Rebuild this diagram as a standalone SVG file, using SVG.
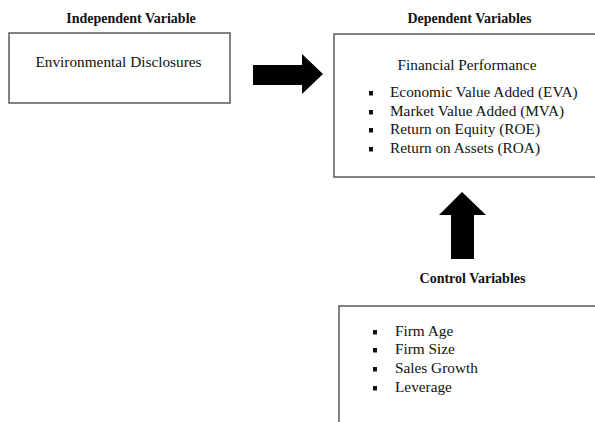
<svg xmlns="http://www.w3.org/2000/svg" width="595" height="422" viewBox="0 0 595 422">
<style>
.box{fill:#fff;stroke:#404040;stroke-width:1.3}
.t{font-family:"Liberation Serif","Times New Roman",serif;font-size:15.3px;fill:#111}
.h{font-family:"Liberation Serif","Times New Roman",serif;font-size:14px;font-weight:bold;fill:#111}
.b{fill:#111}
.arrow{fill:#000}
</style>
<rect width="595" height="422" fill="#fff"/>
<g id="independent">
<text class="h" x="131" y="23" text-anchor="middle">Independent Variable</text>
<rect class="box" x="9" y="33" width="221" height="70"/>
<text class="t" x="118.5" y="67" text-anchor="middle">Environmental Disclosures</text>
</g>
<g id="dependent">
<text class="h" x="469.5" y="23" text-anchor="middle">Dependent Variables</text>
<rect class="box" x="334" y="34" width="280" height="143"/>
<text class="t" x="467" y="70" text-anchor="middle">Financial Performance</text>
<rect class="b" x="369" y="91" width="4" height="4.5"/>
<text class="t" x="390" y="97">Economic Value Added (EVA)</text>
<rect class="b" x="369" y="110" width="4" height="4.5"/>
<text class="t" x="390" y="116">Market Value Added (MVA)</text>
<rect class="b" x="369" y="128" width="4" height="4.5"/>
<text class="t" x="390" y="134">Return on Equity (ROE)</text>
<rect class="b" x="369" y="147" width="4" height="4.5"/>
<text class="t" x="390" y="153">Return on Assets (ROA)</text>
</g>
<g id="control">
<text class="h" x="472.5" y="283" text-anchor="middle">Control Variables</text>
<rect class="box" x="339" y="306" width="280" height="140"/>
<rect class="b" x="373" y="330" width="4" height="4.5"/>
<text class="t" x="395" y="336">Firm Age</text>
<rect class="b" x="373" y="348" width="4" height="4.5"/>
<text class="t" x="395" y="354">Firm Size</text>
<rect class="b" x="373" y="367" width="4" height="4.5"/>
<text class="t" x="395" y="373">Sales Growth</text>
<rect class="b" x="373" y="386" width="4" height="4.5"/>
<text class="t" x="395" y="392">Leverage</text>
</g>
<g id="connectors">
<polygon class="arrow" points="253,65 302,65 302,54 323,74 302,94 302,85 253,85"/>
<polygon class="arrow" points="451,259 451,215 439,215 462,192 486,215 474,215 474,259"/>
</g>
</svg>
